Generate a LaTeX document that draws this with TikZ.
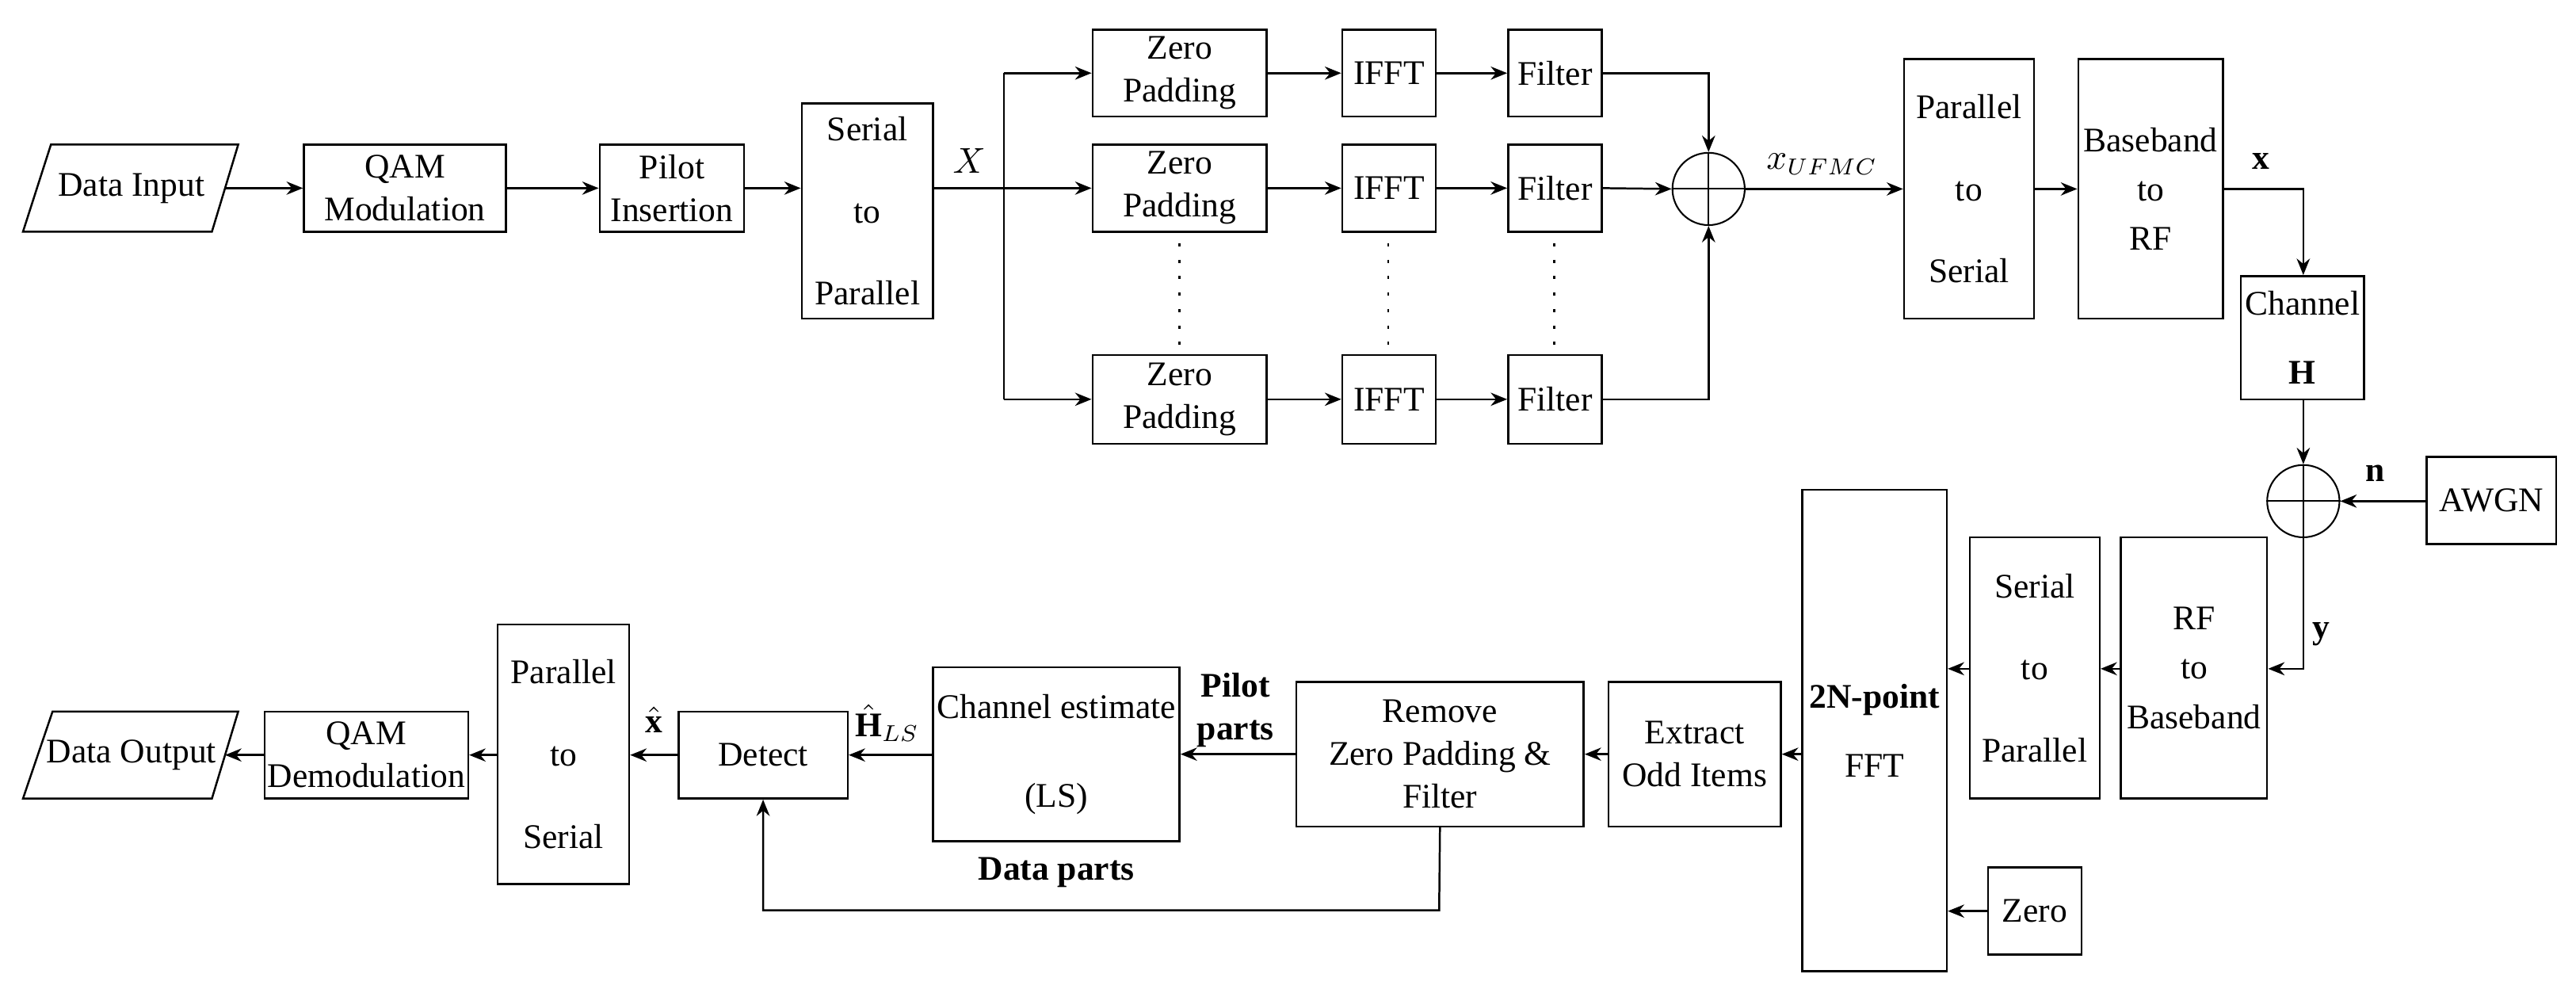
\documentclass[tikz,border=0pt]{standalone}
\usepackage{amsmath}
\usepackage{fontspec}
\newfontfamily\tnr{Liberation Serif}
\setmainfont{Liberation Serif}
\usetikzlibrary{arrows.meta,shapes.geometric}
\begin{document}
\begin{tikzpicture}[x=0.5pt,y=-0.5pt,
  box/.style={draw,line width=0.6pt,inner sep=0pt,align=center,font=\tnr\fontsize{10.5}{13}\selectfont},
  lab/.style={font=\tnr\fontsize{10.5}{13}\selectfont,inner sep=1pt},
  ar/.style={-{Stealth[length=5pt,width=4pt]},line width=0.6pt},
  ln/.style={line width=0.6pt},
  dots/.style={line width=0.6pt,dash pattern=on 1pt off 4pt},
  sum/.style={draw,circle,minimum size=22pt,inner sep=0pt,line width=0.5pt}]
\useasboundingbox (0,0) rectangle (1568,604);
\newcommand\blk[6]{\pgfmathsetmacro\cx{(#2+#4)/2}\pgfmathsetmacro\cy{(#3+#5)/2}%
  \pgfmathsetmacro\bw{(#4-#2)*0.5}\pgfmathsetmacro\bh{(#5-#3)*0.5}%
  \node[box,minimum width=\bw pt,minimum height=\bh pt] (#1) at (\cx,\cy) {#6};}
% parallelograms
\draw[line width=0.6pt] (31,88) -- (145,88) -- (129,141) -- (14,141) -- cycle;
\node[lab] (din) at (80,114.5) {Data Input};
\coordinate (dinr) at (137,114.5);
\draw[line width=0.6pt] (32,433) -- (145,433) -- (129,486) -- (14,486) -- cycle;
\node[lab] (dout) at (80,459.5) {Data Output};
\coordinate (doutr) at (137,459.5);
% top row
\blk{qam}{185}{88}{308}{141}{QAM\\Modulation}
\blk{pil}{365}{88}{453}{141}{Pilot\\Insertion}
\blk{s2p}{488}{63}{568}{194}{Serial\\[12pt]to\\[12pt]Parallel}
\blk{zp1}{665}{18}{771}{71}{Zero\\Padding}
\blk{zp2}{665}{88}{771}{141}{Zero\\Padding}
\blk{zp3}{665}{216}{771}{270}{Zero\\Padding}
\blk{if1}{817}{18}{874}{71}{IFFT}
\blk{if2}{817}{88}{874}{141}{IFFT}
\blk{if3}{817}{216}{874}{270}{IFFT}
\blk{fl1}{918}{18}{975}{71}{Filter}
\blk{fl2}{918}{88}{975}{141}{Filter}
\blk{fl3}{918}{216}{975}{270}{Filter}
\node[sum] (s1) at (1040,115) {};
\draw[line width=0.5pt] (s1.north) -- (s1.south) (s1.west) -- (s1.east);
\blk{p2s}{1159}{36}{1238}{194}{Parallel\\[12pt]to\\[12pt]Serial}
\blk{bb}{1265}{36}{1353}{194}{Baseband\\[2pt]to\\[2pt]RF}
\blk{ch}{1364}{168}{1439}{243}{Channel\\[8pt]$\mathbf{H}$}
\node[sum] (s2) at (1402,305) {};
\draw[line width=0.5pt] (s2.north) -- (s2.south) (s2.west) -- (s2.east);
\blk{awgn}{1477}{278}{1556}{331}{AWGN}
% bottom row
\blk{rf}{1291}{327}{1380}{486}{RF\\[2pt]to\\[2pt]Baseband}
\blk{sp2}{1199}{327}{1278}{486}{Serial\\[12pt]to\\[12pt]Parallel}
\blk{fft}{1097}{298}{1185}{591}{\textbf{2N-point}\\[8pt]FFT}
\blk{zero}{1210}{528}{1267}{581}{Zero}
\blk{odd}{979}{415}{1084}{503}{Extract\\Odd Items}
\blk{rem}{789}{415}{964}{503}{Remove\\Zero Padding \&\\Filter}
\blk{ce}{568}{406}{718}{512}{Channel estimate\\[14pt](LS)}
\blk{det}{413}{433}{516}{486}{Detect}
\blk{ps2}{303}{380}{383}{538}{Parallel\\[12pt]to\\[12pt]Serial}
\blk{qd}{161}{433}{285}{486}{QAM\\Demodulation}
% labels
\node[lab] (lX) at (590,98) {$X$};
\node[lab] (lu) at (1109,100) {$x_{UFMC}$};
\node[lab] (lx) at (1376,98) {$\mathbf{x}$};
\node[lab] (ln) at (1446,288) {$\mathbf{n}$};
\node[lab] (ly) at (1413,386) {$\mathbf{y}$};
\node[lab,align=center,font=\tnr\fontsize{10.5}{13}\selectfont\bfseries] (lp) at (752,432) {Pilot\\parts};
\node[lab,font=\tnr\fontsize{10.5}{13}\selectfont\bfseries] (ld) at (643,531) {Data parts};
\node[lab] (lh) at (540,440) {$\hat{\mathbf{H}}_{LS}$};
\node[lab] (lxh) at (398,438) {$\hat{\mathbf{x}}$};
% top connectors
\draw[ar] (dinr) -- (qam);
\draw[ar] (qam) -- (pil);
\draw[ar] (pil) -- (pil -| s2p.west);
\coordinate (br) at (611,114.5);
\draw[ln] (br |- zp1) -- (br |- zp3);
\draw[ar] (s2p.east |- zp2) -- (zp2);
\draw[ar] (br |- zp1) -- (zp1);
\draw[ar] (br |- zp3) -- (zp3);
\foreach \i in {1,2,3}{\draw[ar] (zp\i) -- (if\i); \draw[ar] (if\i) -- (fl\i);}
\draw[ar] (fl1.east) -| (s1.north);
\draw[ar] (fl3.east) -| (s1.south);
\draw[ar] (fl2.east) -- (s1.west);
\draw[ar] (s1.east) -- (s1 -| p2s.west);
\draw[ar] (p2s.east |- s1) -- (bb.west |- s1);
\draw[ar] (bb.east |- s1) -| (ch.north -| s2);
\draw[ar] (ch.south -| s2) -- (s2.north);
\draw[ar] (awgn.west |- s2) -- (s2.east);
\draw[ar] (s2.south) |- (rf.east |- 0,407);
\draw[ar] (rf.west |- 0,407) -- (sp2.east |- 0,407);
\draw[ar] (sp2.west |- 0,407) -- (fft.east |- 0,407);
\draw[ar] (zero.west) -- (fft.east |- zero);
\draw[ar] (fft.west |- odd) -- (odd.east);
\draw[ar] (odd.west) -- (rem.east);
\draw[ar] (rem.west) -- (rem.west -| ce.east);
\draw[ar] (ce.west |- det) -- (det.east);
\draw[ar] (det.west) -- (det -| ps2.east);
\draw[ar] (ps2.west |- qd) -- (qd.east);
\draw[ar] (qd.west) -- (doutr);
\draw[ar] (rem.south) -- (876,554) -| (det.south);
% dots
\foreach \x in {718,845,946}{\draw[dots] (\x,148) -- (\x,212);}
\end{tikzpicture}
\end{document}
